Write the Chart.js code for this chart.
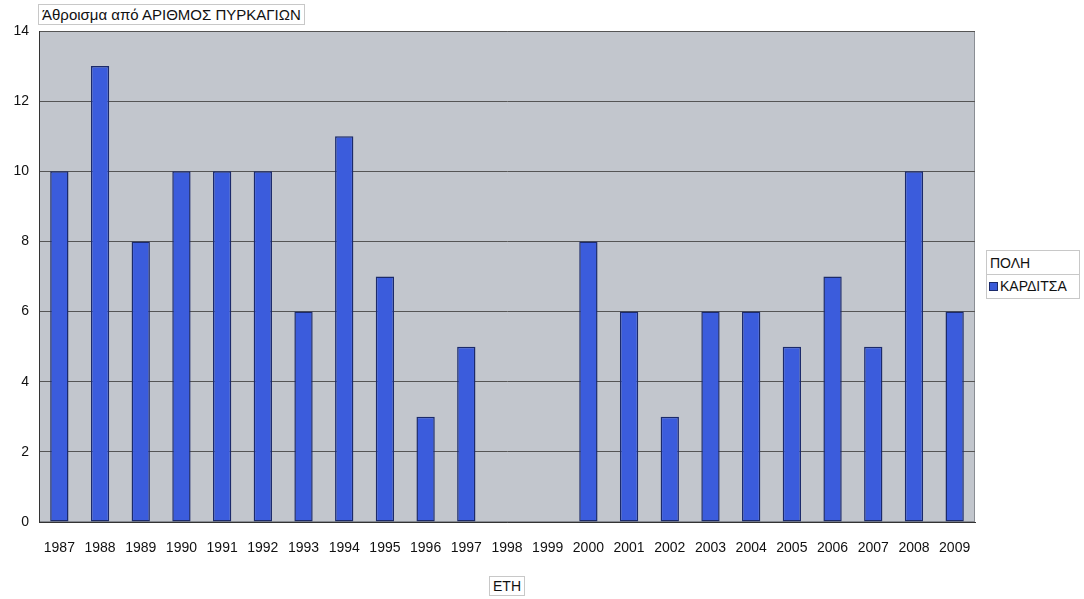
<!DOCTYPE html>
<html>
<head>
<meta charset="utf-8">
<script src="https://cdn.jsdelivr.net/npm/chart.js@4"></script>
<style>
  body { margin: 0; background: #fff; font-family: "Liberation Sans", Arial, sans-serif; }
  #wrap { position: relative; width: 1084px; height: 599px; }
  .box { position: absolute; border: 1px solid #c8c8c8; background: #fff; color: #111; }
  #title { left: 38px; top: 4px; padding: 1px 3px; font-size: 15px; }
  #xtitle { left: 489px; top: 576px; padding: 1px 3px; font-size: 14px; }
  #legend { left: 986px; top: 250px; width: 92px; font-size: 14px; }
  #legend .hd { padding: 4px 3px 3px; border-bottom: 1px solid #c8c8c8; }
  #legend .it { padding: 3px 2px 4px; }
  #legend .sw { display: inline-block; width: 7px; height: 7px; background: #3a5ad8; border: 1px solid #1b2a6b; margin-right: 2px; }
</style>
</head>
<body>
<div id="wrap">
  <canvas id="c" width="1084" height="599"></canvas>
  <div id="title" class="box">Άθροισμα από ΑΡΙΘΜΟΣ ΠΥΡΚΑΓΙΩΝ</div>
  <div id="xtitle" class="box">ΕΤΗ</div>
  <div id="legend" class="box">
    <div class="hd">ΠΟΛΗ</div>
    <div class="it"><span class="sw"></span>ΚΑΡΔΙΤΣΑ</div>
  </div>
</div>
<script>
const years = ['1987','1988','1989','1990','1991','1992','1993','1994','1995','1996','1997','1998',
  '1999','2000','2001','2002','2003','2004','2005','2006','2007','2008','2009'];
const karditsa = [10, 13, 8, 10, 10, 10, 6, 11, 7, 3, 5, 0, 0, 8, 6, 3, 6, 6, 5, 7, 5, 10, 6];
const yTicks = [0, 2, 4, 6, 8, 10, 12, 14];

// gray plot background
const plotBg = {
  id: 'plotBg',
  beforeDraw(chart) {
    const { ctx, chartArea: a } = chart;
    ctx.save();
    ctx.fillStyle = '#c2c6cd';
    ctx.fillRect(a.left, a.top, a.right - a.left, a.bottom - a.top);
    ctx.strokeStyle = '#8a8e94';
    ctx.strokeRect(a.left + 0.5, a.top + 0.5, a.right - a.left - 1, a.bottom - a.top - 1);
    ctx.restore();
  }
};

new Chart(document.getElementById('c'), {
  type: 'bar',
  data: {
    labels: years,
    datasets: [{
      label: 'ΚΑΡΔΙΤΣΑ',
      data: karditsa,
      backgroundColor: '#3b5cdc',
      borderColor: '#1b2a6b',
      borderWidth: 1.5,
      borderSkipped: false,
      categoryPercentage: 1,
      barPercentage: 0.45
    }]
  },
  options: {
    responsive: false,
    animation: false,
    layout: { padding: { top: 31, right: 109, left: 0, bottom: 0 } },
    plugins: { legend: { display: false }, tooltip: { enabled: false } },
    scales: {
      x: {
        grid: { display: false, drawTicks: false },
        border: { color: '#333', width: 1 },
        ticks: { color: '#111', font: { family: 'Liberation Sans', size: 14 }, padding: 18, maxRotation: 0, autoSkip: false },
        afterFit(s) { s.height = 77; }
      },
      y: {
        min: 0, max: 14,
        afterBuildTicks(s) { s.ticks = yTicks.map(v => ({ value: v })); },
        grid: { color: '#555', drawTicks: false },
        border: { color: '#333', width: 1 },
        ticks: { color: '#111', font: { family: 'Liberation Sans', size: 14 }, padding: 10 },
        afterFit(s) { s.width = 39; }
      }
    }
  },
  plugins: [plotBg]
});
</script>
</body>
</html>
